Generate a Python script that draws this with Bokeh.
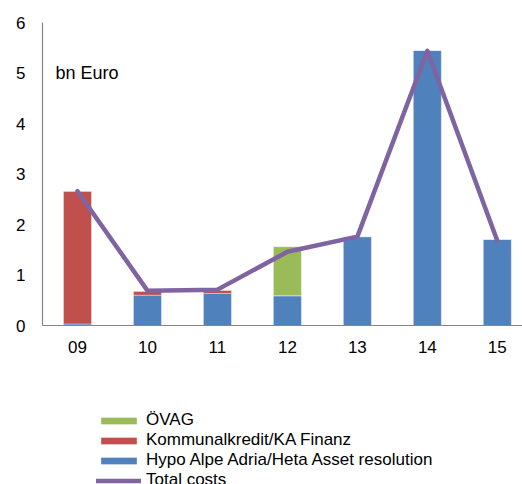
from bokeh.plotting import figure
from bokeh.layouts import column
from bokeh.models import Range1d, Legend, LegendItem, Label, ColumnDataSource
from bokeh.embed import file_html
from bokeh.resources import INLINE

years = ["09", "10", "11", "12", "13", "14", "15"]
hypo = [0.03, 0.60, 0.635, 0.59, 1.76, 5.45, 1.71]
kommunal = [2.63, 0.08, 0.065, 0.0, 0.0, 0.0, 0.0]
ovag = [0.0, 0.0, 0.0, 0.97, 0.0, 0.0, 0.0]
total = [2.66, 0.69, 0.71, 1.46, 1.76, 5.44, 1.68]
y_ticks = [0, 1, 2, 3, 4, 5, 6]

FONT = "Liberation Sans"
BLUE = "#4F81BD"
RED = "#C0504D"
GREEN = "#9BBB59"
PURPLE = "#8064A2"
AXIS = "#868686"

xpos = list(range(len(years)))
src = ColumnDataSource(dict(x=xpos, hypo=hypo, kommunal=kommunal, ovag=ovag, total=total))

W = 522
p = figure(width=W, height=380, output_backend="svg", toolbar_location=None,
           x_range=Range1d(-0.5, 6.36), y_range=Range1d(0, 6),
           min_border_left=42, min_border_right=0, min_border_top=22, min_border_bottom=55)
p.outline_line_color = None
p.xgrid.visible = False
p.ygrid.visible = False

bar_kw = dict(x="x", width=0.4, source=src, color=[BLUE, RED, GREEN],
              line_color="white", line_alpha=0.35, line_width=1)
line_kw = dict(line_color=PURPLE, line_width=4.5, line_join="round", line_cap="round")
p.vbar_stack(["hypo", "kommunal", "ovag"], **bar_kw)
p.line("x", "total", source=src, **line_kw)

for ax in (p.xaxis[0], p.yaxis[0]):
    ax.axis_line_color = AXIS
    ax.axis_line_width = 1.2
    ax.major_tick_line_color = None
    ax.minor_tick_line_color = None
    ax.major_tick_out = 0
    ax.major_tick_in = 0
    ax.minor_tick_out = 0
    ax.major_label_text_font = FONT
    ax.major_label_text_font_size = "17px"
    ax.major_label_text_color = "#000000"

p.xaxis.ticker = xpos
p.xaxis.major_label_overrides = {i: y for i, y in enumerate(years)}
p.xaxis.major_label_standoff = 15
p.yaxis.ticker = y_ticks
p.yaxis.major_label_standoff = 17

p.add_layout(Label(x=-0.5, y=5, x_offset=13, text="bn Euro", text_font=FONT,
                   text_font_size="18px", text_baseline="middle", text_color="#000000"))

# legend panel below the chart (its own glyph renderers kept out of view)
p2 = figure(width=W, height=104, output_backend="svg", toolbar_location=None,
            x_range=Range1d(-0.5, 6.36), y_range=Range1d(100, 101),
            x_axis_location=None, y_axis_location=None, min_border=0)
p2.outline_line_color = None
p2.xgrid.visible = False
p2.ygrid.visible = False
bars2 = p2.vbar_stack(["hypo", "kommunal", "ovag"], **bar_kw)
line2 = p2.line("x", "total", source=src, **line_kw)

legend = Legend(items=[
    LegendItem(label="ÖVAG", renderers=[bars2[2]]),
    LegendItem(label="Kommunalkredit/KA Finanz", renderers=[bars2[1]]),
    LegendItem(label="Hypo Alpe Adria/Heta Asset resolution", renderers=[bars2[0]]),
    LegendItem(label="Total costs", renderers=[line2]),
], location=(54, -6), padding=0, margin=0, spacing=0,
    glyph_width=45, glyph_height=9, label_height=20, label_standoff=5,
    label_text_font=FONT, label_text_font_size="17px", label_text_color="#000000",
    border_line_color=None, background_fill_alpha=0)
p2.add_layout(legend, "center")

layout = column(p, p2, spacing=0)
open("out.html", "w").write(file_html(layout, INLINE))
